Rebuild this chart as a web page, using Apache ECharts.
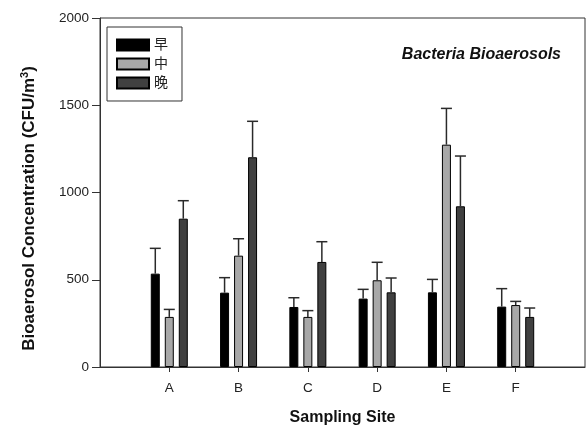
<!DOCTYPE html>
<html>
<head>
<meta charset="utf-8">
<script src="https://cdn.jsdelivr.net/npm/echarts@6/dist/echarts.min.js"></script>
<style>
  html, body { margin: 0; padding: 0; background: #fff; }
  #chart { width: 588px; height: 428px; }
</style>
</head>
<body>
<div id="chart"></div>
<script>
// Sampling sites (padded with blank slots at both ends of the axis)
var sites = ['A', 'B', 'C', 'D', 'E', 'F'];
var yTicks = [0, 500, 1000, 1500, 2000];

// Mean concentrations (CFU/m3) by time of day
var morning = [535, 426, 344, 392, 428, 346];
var noon    = [287, 638, 287, 497, 1274, 355];
var evening = [850, 1202, 602, 428, 921, 287];

// Upper end of each error bar (mean + SD)
var morningUpper = [680, 512, 397, 445, 502, 449];
var noonUpper    = [330, 735, 323, 600, 1482, 376];
var eveningUpper = [953, 1408, 718, 510, 1209, 338];

var seriesNames = ['早', '中', '晚'];
var colors = ['#000000', '#a8a8a8', '#404040'];

var FONT = '"Liberation Sans", Arial, "Noto Sans CJK SC", sans-serif';
var BAR_W = 9;
var BAR_STEP = 14;   // centre-to-centre distance of bars within a group

var categories = [''].concat(sites, ['']);
function pad(arr) { return [null].concat(arr, [null]); }

var means = [morning, noon, evening];
var uppers = [morningUpper, noonUpper, eveningUpper];

var series = [];
means.forEach(function (vals, k) {
  series.push({
    name: seriesNames[k],
    type: 'bar',
    data: pad(vals),
    barWidth: BAR_W,
    barGap: ((BAR_STEP - BAR_W) / BAR_W * 100) + '%',
    itemStyle: { color: colors[k], borderColor: '#000', borderWidth: 1 },
    animation: false
  });
});

// Error bars: vertical whisker from the mean up to mean + SD with a cap
means.forEach(function (vals, k) {
  var d = [];
  vals.forEach(function (v, i) { d.push([i + 1, v, uppers[k][i]]); });
  series.push({
    type: 'custom',
    data: d,
    z: 5,
    animation: false,
    renderItem: function (params, api) {
      var base = api.coord([api.value(0), api.value(1)]);
      var top = api.coord([api.value(0), api.value(2)]);
      var x = base[0] + (k - 1) * BAR_STEP;
      var style = { stroke: '#2a2a2a', lineWidth: 1.5 };
      return {
        type: 'group',
        children: [
          { type: 'line', shape: { x1: x, y1: base[1], x2: x, y2: top[1] }, style: style },
          { type: 'line', shape: { x1: x - 5.5, y1: top[1], x2: x + 5.5, y2: top[1] }, style: style }
        ]
      };
    }
  });
});

var chart = echarts.init(document.getElementById('chart'), null, { renderer: 'canvas' });
chart.setOption({
  backgroundColor: '#fff',
  textStyle: { fontFamily: FONT },
  grid: {
    left: 100, right: 3, top: 18, bottom: 61,
    outerBoundsMode: 'none',
    containLabel: false,
    show: true, borderColor: '#333', borderWidth: 1, backgroundColor: 'transparent'
  },
  title: {
    text: 'Bacteria Bioaerosols',
    right: 22, top: 42,
    textStyle: { fontFamily: FONT, fontSize: 16, fontWeight: 'bold', fontStyle: 'italic', color: '#111' }
  },
  legend: {
    orient: 'vertical',
    left: 107, top: 27,
    data: seriesNames,
    icon: 'rect',
    itemWidth: 32, itemHeight: 11, itemGap: 5,
    padding: [11, 14, 11, 9],
    borderColor: '#333', borderWidth: 1,
    textStyle: { fontFamily: FONT, fontSize: 14, color: '#222' }
  },
  xAxis: {
    type: 'category',
    data: categories,
    boundaryGap: false,
    name: 'Sampling Site',
    nameLocation: 'middle',
    nameGap: 43,
    nameTextStyle: { fontFamily: FONT, fontSize: 16, fontWeight: 'bold', color: '#111' },
    axisLine: { lineStyle: { color: '#333', width: 1 } },
    axisTick: {
      length: 5, inside: false,
      interval: function (i, v) { return v !== ''; },
      lineStyle: { color: '#333' }
    },
    axisLabel: { interval: 0, margin: 15, fontFamily: FONT, fontSize: 13.5, color: '#222' },
    splitLine: { show: false }
  },
  yAxis: {
    type: 'value',
    min: yTicks[0], max: yTicks[yTicks.length - 1], interval: yTicks[1] - yTicks[0],
    name: '{a|Bioaerosol Concentration (CFU/m}{s|3}{a|)}',
    nameLocation: 'middle',
    nameGap: 61,
    nameTextStyle: {
      padding: [0, 32, 0, 0],
      rich: {
        a: { fontFamily: FONT, fontSize: 17, fontWeight: 'bold', color: '#111' },
        s: { fontFamily: FONT, fontSize: 11, fontWeight: 'bold', color: '#111', verticalAlign: 'top', padding: [0, 0, 9, 0] }
      }
    },
    axisLine: { show: true, lineStyle: { color: '#333', width: 1 } },
    axisTick: { show: true, length: 8, lineStyle: { color: '#333' } },
    axisLabel: {
      margin: 11, fontFamily: FONT, fontSize: 13.5, color: '#222',
      formatter: function (v) { return String(v); }
    },
    splitLine: { show: false }
  },
  series: series
});
</script>
</body>
</html>
